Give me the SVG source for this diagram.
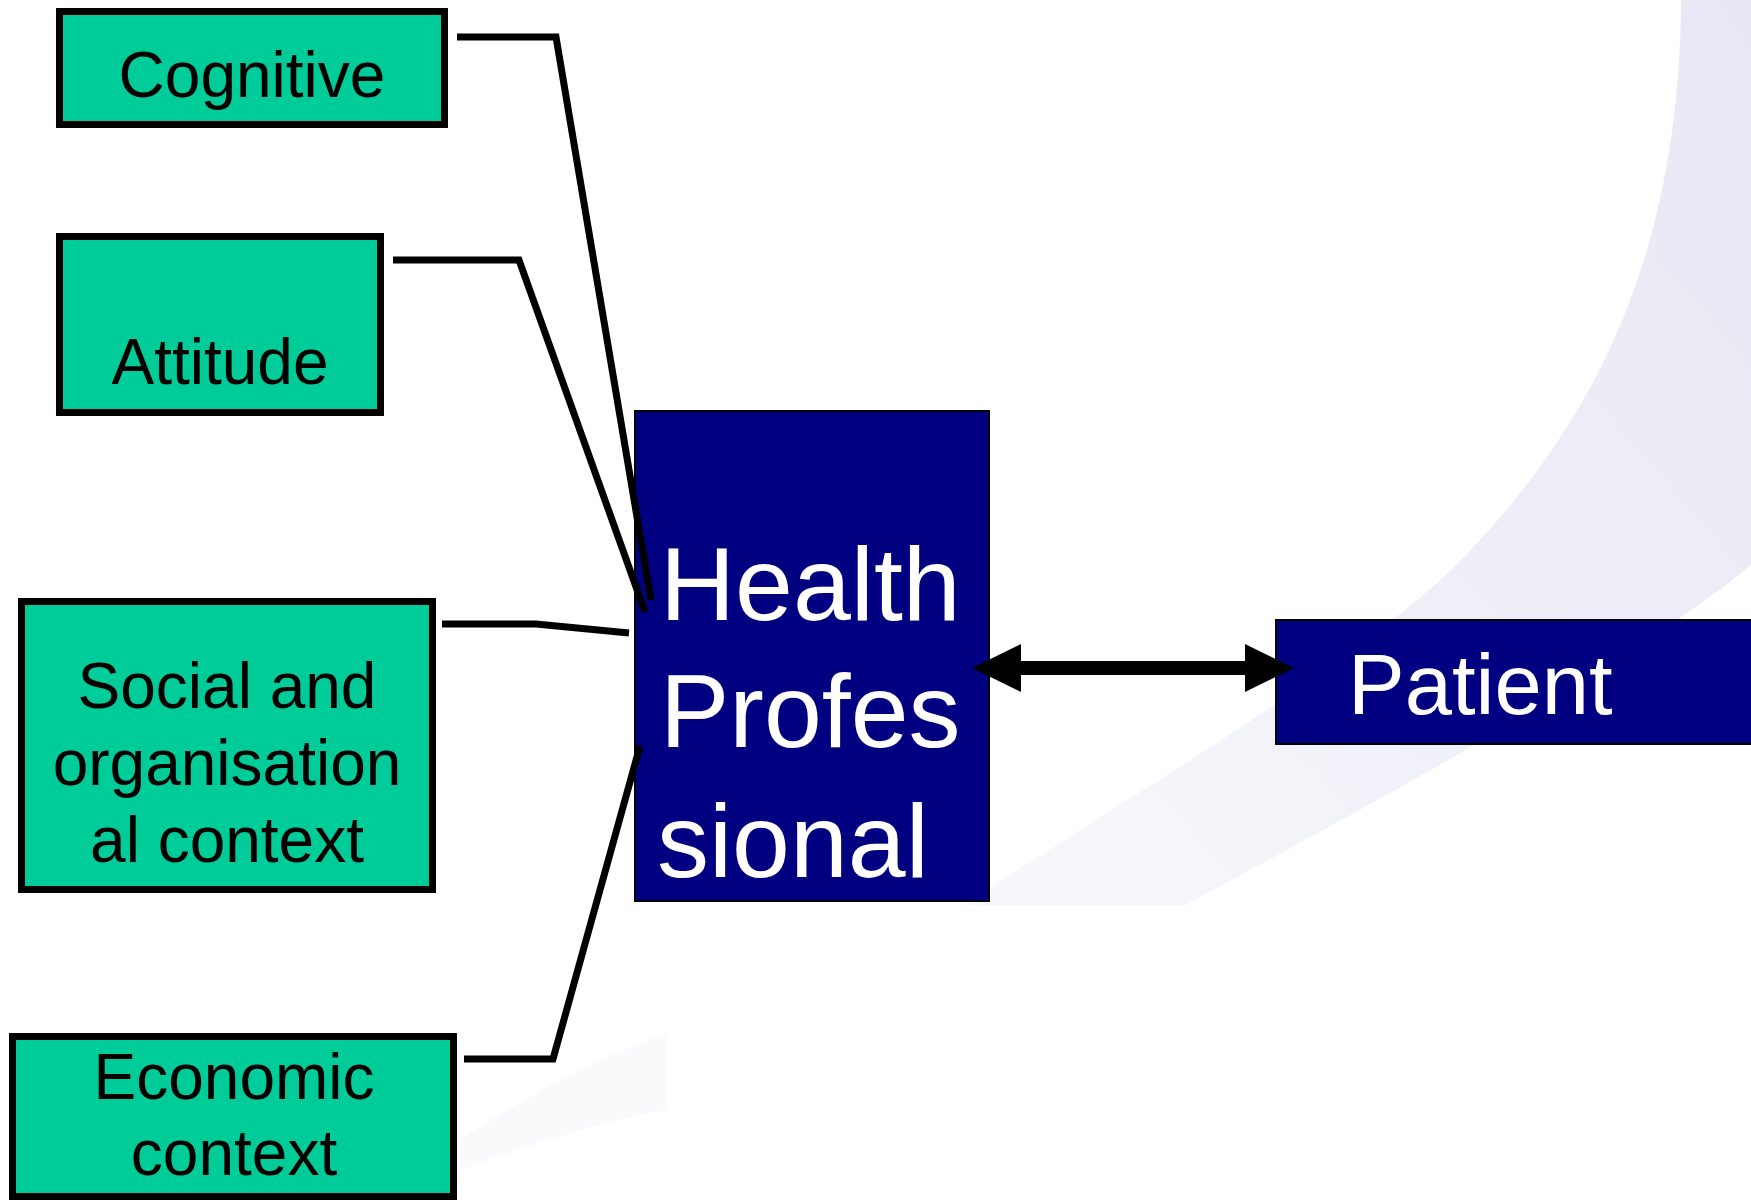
<svg xmlns="http://www.w3.org/2000/svg" width="1751" height="1202" viewBox="0 0 1751 1202">
  <defs>
    <linearGradient id="swoosh" x1="1" y1="0" x2="0" y2="1">
      <stop offset="0" stop-color="#E8E7F4"/>
      <stop offset="0.55" stop-color="#EFEFF8"/>
      <stop offset="1" stop-color="#F8F8FC"/>
    </linearGradient>
    <style>
      .green { fill: #00CC99; stroke: #000000; stroke-width: 7; }
      .navy { fill: #000080; stroke: #000000; stroke-width: 2; }
      .dark { font-family: "Liberation Sans", Arial, sans-serif; font-size: 64px; fill: #000000; text-anchor: middle; }
      .big { font-family: "Liberation Sans", Arial, sans-serif; font-size: 104px; fill: #FFFFFF; }
      .pat { font-family: "Liberation Sans", Arial, sans-serif; font-size: 85px; fill: #FFFFFF; }
      .conn { fill: none; stroke: #000000; stroke-width: 7; stroke-linejoin: miter; stroke-linecap: butt; }
    </style>
  </defs>

  <rect x="0" y="0" width="1751" height="1202" fill="#FFFFFF"/>
  <g id="background">
    <path d="M1681,0 C1680,260 1590,427 1463,558 C1363,661 1133,793 983,893 L965,905 L1185,905 C1400,790 1650,650 1751,565 L1751,0 Z" fill="url(#swoosh)"/>
    <path d="M460,1140 C520,1100 590,1060 667,1033 L667,1110 C600,1120 520,1150 460,1170 Z" fill="#FAFAFD"/>
  </g>

  <g id="node-cognitive">
    <rect class="green" x="59.5" y="11.5" width="385" height="113"/>
    <text class="dark" x="252" y="97">Cognitive</text>
  </g>

  <g id="node-attitude">
    <rect class="green" x="59.5" y="236.5" width="321" height="176"/>
    <text class="dark" x="220" y="384">Attitude</text>
  </g>

  <g id="node-social">
    <rect class="green" x="21.5" y="601.5" width="411" height="288"/>
    <text class="dark" x="227" y="708">Social and</text>
    <text class="dark" x="227" y="785">organisation</text>
    <text class="dark" x="227" y="862">al context</text>
  </g>

  <g id="node-economic">
    <rect class="green" x="12.5" y="1036.5" width="441" height="160"/>
    <text class="dark" x="234" y="1099">Economic</text>
    <text class="dark" x="234" y="1175">context</text>
  </g>

  <g id="node-health-professional">
    <rect class="navy" x="635" y="411" width="354" height="490"/>
    <text class="big" x="660" y="620">Health</text>
    <text class="big" x="660" y="747">Profes</text>
    <text class="big" x="657" y="877">sional</text>
  </g>

  <g id="node-patient">
    <rect class="navy" x="1276" y="620" width="490" height="124"/>
    <text class="pat" x="1348" y="714">Patient</text>
  </g>

  <g id="connectors">
    <polyline class="conn" points="457,37 556,37 651,600"/>
    <polyline class="conn" points="393,260 519,260 645,612"/>
    <polyline class="conn" points="442,624 536,624 629,633"/>
    <polyline class="conn" points="464,1059 553,1059 640,746"/>
    <g id="arrow-hp-patient">
      <rect x="1019" y="661" width="228" height="14" fill="#000000"/>
      <polygon points="972,668 1021,644 1021,692" fill="#000000"/>
      <polygon points="1294,668 1245,644 1245,692" fill="#000000"/>
    </g>
  </g>
</svg>
